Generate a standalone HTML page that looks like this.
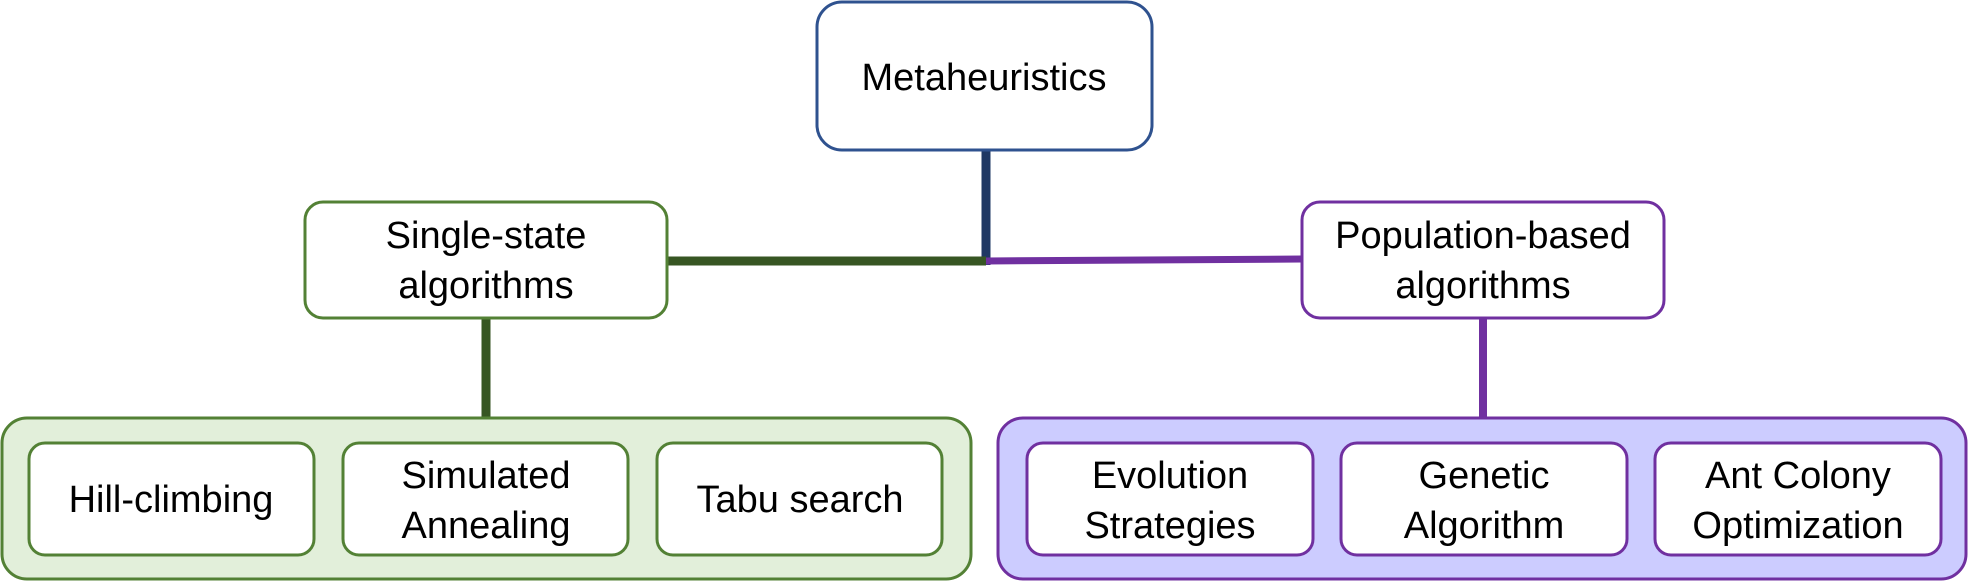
<!DOCTYPE html>
<html><head><meta charset="utf-8"><style>
html,body{margin:0;padding:0;background:#fff;}
svg{display:block;}
text{font-family:"Liberation Sans",sans-serif;font-size:38px;fill:#000;text-anchor:middle;}
</style></head><body>
<svg width="1970" height="582" viewBox="0 0 1970 582" xmlns="http://www.w3.org/2000/svg">
<line x1="986" y1="150" x2="986" y2="265" stroke="#1F3864" stroke-width="9"/>
<line x1="666" y1="261" x2="986" y2="261" stroke="#375623" stroke-width="9"/>
<line x1="986" y1="261" x2="1302" y2="259" stroke="#7030A0" stroke-width="7"/>
<line x1="486" y1="318" x2="486" y2="418" stroke="#375623" stroke-width="9"/>
<line x1="1483" y1="318" x2="1483" y2="418" stroke="#7030A0" stroke-width="8"/>

<rect x="817" y="2" width="335" height="148" rx="25" fill="#fff" stroke="#2F528F" stroke-width="3"/>
<text x="984" y="90">Metaheuristics</text>

<rect x="305" y="202" width="362" height="116" rx="18" fill="#fff" stroke="#538135" stroke-width="3"/>
<text x="486" y="248">Single-state</text>
<text x="486" y="298">algorithms</text>
<rect x="1302" y="202" width="362" height="116" rx="18" fill="#fff" stroke="#7030A0" stroke-width="3"/>
<text x="1483" y="248">Population-based</text>
<text x="1483" y="298">algorithms</text>

<rect x="2" y="418" width="969" height="161" rx="25" fill="#E2EFDA" stroke="#538135" stroke-width="3"/>
<rect x="998" y="418" width="968" height="161" rx="25" fill="#CCCCFF" stroke="#7030A0" stroke-width="3"/>

<rect x="29" y="443" width="285" height="112" rx="16" fill="#fff" stroke="#538135" stroke-width="3"/>
<text x="171" y="512">Hill-climbing</text>
<rect x="343" y="443" width="285" height="112" rx="16" fill="#fff" stroke="#538135" stroke-width="3"/>
<text x="486" y="488">Simulated</text>
<text x="486" y="538">Annealing</text>
<rect x="657" y="443" width="285" height="112" rx="16" fill="#fff" stroke="#538135" stroke-width="3"/>
<text x="800" y="512">Tabu search</text>

<rect x="1027" y="443" width="286" height="112" rx="16" fill="#fff" stroke="#7030A0" stroke-width="3"/>
<text x="1170" y="488">Evolution</text>
<text x="1170" y="538">Strategies</text>
<rect x="1341" y="443" width="286" height="112" rx="16" fill="#fff" stroke="#7030A0" stroke-width="3"/>
<text x="1484" y="488">Genetic</text>
<text x="1484" y="538">Algorithm</text>
<rect x="1655" y="443" width="286" height="112" rx="16" fill="#fff" stroke="#7030A0" stroke-width="3"/>
<text x="1798" y="488">Ant Colony</text>
<text x="1798" y="538">Optimization</text>
</svg>
</body></html>
